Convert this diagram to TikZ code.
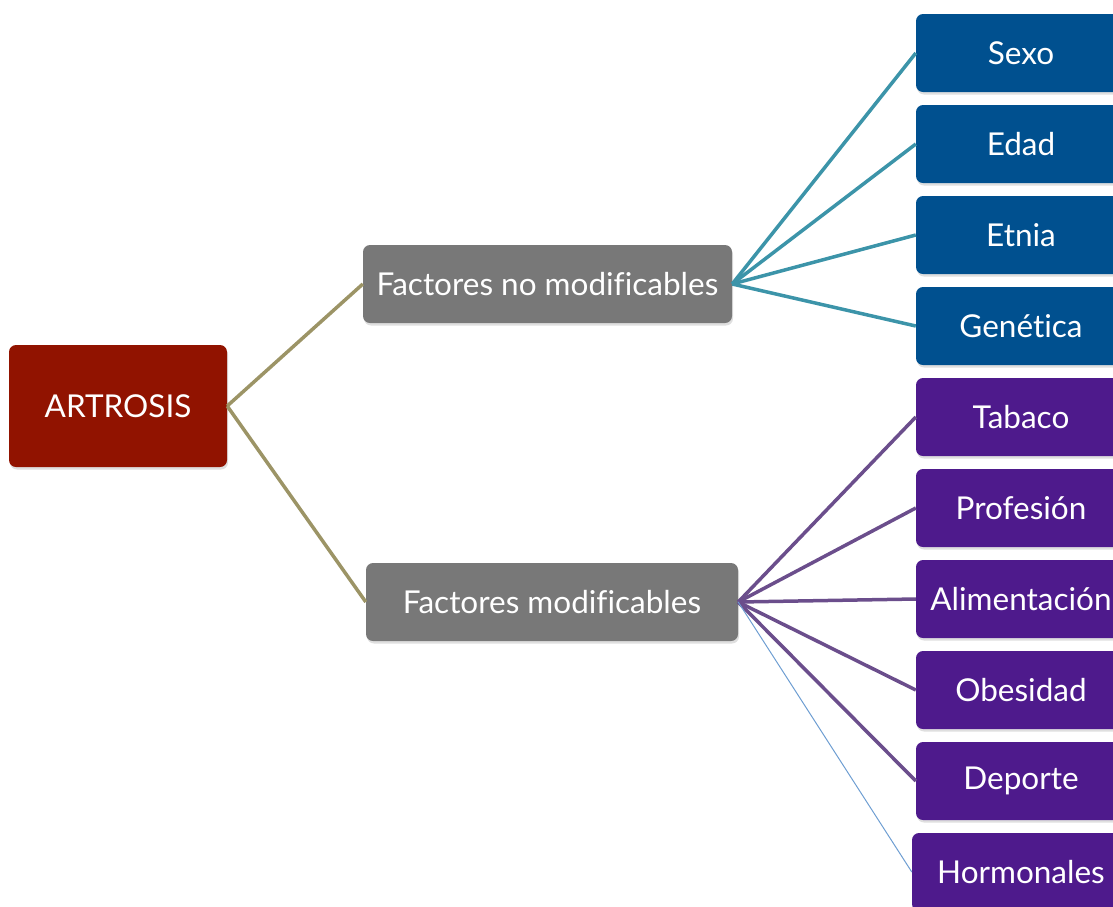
\documentclass[tikz,border=0pt]{standalone}
\usepackage{fontspec}
\setmainfont{Lato}[Ligatures=NoCommon]
\usetikzlibrary{shadows}
\definecolor{rootred}{HTML}{911300}
\definecolor{midgray}{HTML}{787878}
\definecolor{boxblue}{HTML}{00508F}
\definecolor{boxpurple}{HTML}{4E1A8C}
\definecolor{lineolive}{HTML}{9C9466}
\definecolor{lineteal}{HTML}{3C94A9}
\definecolor{linepurple}{HTML}{6B4E8C}
\definecolor{linelightblue}{HTML}{6E9ED2}
\tikzset{
  basebox/.style={rounded corners=7pt, text=white, inner sep=0pt, align=center,
    font=\fontsize{31.5}{38}\selectfont,
    drop shadow={shadow xshift=1pt, shadow yshift=-2.5pt, opacity=0.25}},
  rootbox/.style={basebox, fill=rootred, minimum width=218pt, minimum height=122pt},
  graybox/.style={basebox, fill=midgray, minimum height=78pt},
  bluebox/.style={basebox, fill=boxblue, minimum width=210pt, minimum height=78pt},
  purplebox/.style={basebox, fill=boxpurple, minimum width=210pt, minimum height=78pt},
  olivelink/.style={draw=lineolive, line width=3.5pt},
  teallink/.style={draw=lineteal, line width=3.5pt},
  purplelink/.style={draw=linepurple, line width=3.5pt},
  thinlink/.style={draw=linelightblue, line width=1pt}
}
\begin{document}
\begin{tikzpicture}[x=1pt,y=-1pt]
\useasboundingbox (0,0) rectangle (1113,906);
\clip (0,0) rectangle (1113,906);
\node[rootbox] (root) at (118,406) {ARTROSIS};
\node[graybox, minimum width=369pt] (fnm) at (547.5,284) {Factores no modificables};
\node[graybox, minimum width=372pt] (fm) at (552,602) {Factores modificables};
\node[bluebox] (sexo) at (1021,53) {Sexo};
\node[bluebox] (edad) at (1021,144) {Edad};
\node[bluebox] (etnia) at (1021,235) {Etnia};
\node[bluebox] (gen) at (1021,326) {Genética};
\node[purplebox] (tab) at (1021,417) {Tabaco};
\node[purplebox] (prof) at (1021,508) {Profesión};
\node[purplebox] (alim) at (1021,599) {Alimentación};
\node[purplebox] (obe) at (1021,690) {Obesidad};
\node[purplebox] (dep) at (1021,781) {Deporte};
\node[purplebox, minimum width=218pt] (hor) at (1021,872) {Hormonales};
\draw[olivelink] (root.east) -- (fnm.west);
\draw[olivelink] (root.east) -- (fm.west);
\foreach \t in {sexo,edad,etnia,gen}{\draw[teallink] (fnm.east) -- (\t.west);}
\foreach \t in {tab,prof,alim,obe,dep}{\draw[purplelink] (fm.east) -- (\t.west);}
\draw[thinlink] (fm.east) -- (hor.west);
\end{tikzpicture}
\end{document}
